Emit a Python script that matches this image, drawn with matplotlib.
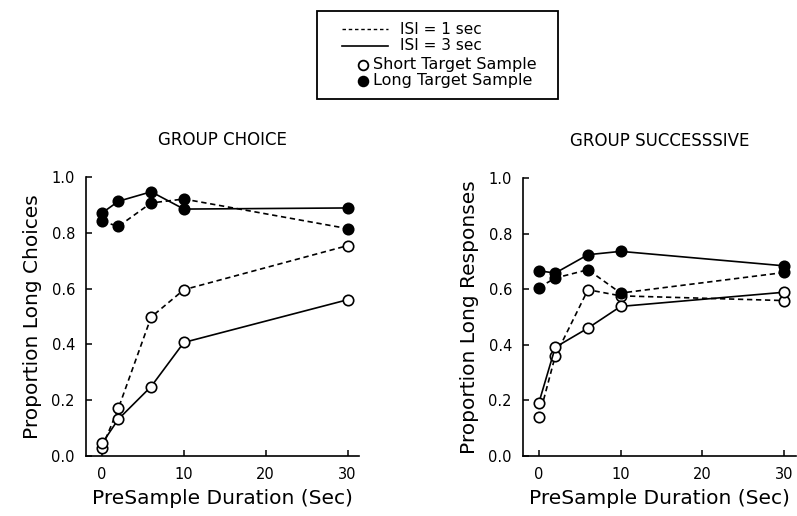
import numpy as np
import matplotlib
matplotlib.use("Agg")
import matplotlib.pyplot as plt
from matplotlib.lines import Line2D
from matplotlib.patches import Rectangle

# presample durations (sec)
duration = [0, 2, 6, 10, 30]

# GROUP CHOICE
choice_long_isi1 = [0.841, 0.823, 0.907, 0.921, 0.815]
choice_long_isi3 = [0.871, 0.913, 0.947, 0.885, 0.889]
choice_short_isi1 = [0.030, 0.171, 0.498, 0.596, 0.754]
choice_short_isi3 = [0.045, 0.132, 0.249, 0.407, 0.560]

# GROUP SUCCESSSIVE
succ_long_isi1 = [0.606, 0.640, 0.670, 0.586, 0.660]
succ_long_isi3 = [0.666, 0.658, 0.724, 0.736, 0.684]
succ_short_isi1 = [0.139, 0.360, 0.598, 0.576, 0.559]
succ_short_isi3 = [0.192, 0.391, 0.460, 0.538, 0.589]

titles = ["GROUP CHOICE", "GROUP SUCCESSSIVE"]
ylabels = ["Proportion Long Choices", "Proportion Long Responses"]
xticks = [0, 10, 20, 30]
yticks = [0.0, 0.2, 0.4, 0.6, 0.8, 1.0]

plt.rcParams["font.family"] = "DejaVu Sans"

fig = plt.figure(figsize=(7.97, 5.16), dpi=100)
ax1 = fig.add_axes([0.108, 0.1163, 0.3425, 0.5407])
ax2 = fig.add_axes([0.6562, 0.1163, 0.342, 0.5388])

dash = (0, (3.2, 2.2))
mk = dict(marker="o", markersize=7.5, markeredgewidth=1.2, color="black", lw=1.2)

panels = [
    (ax1, choice_long_isi1, choice_long_isi3, choice_short_isi1, choice_short_isi3),
    (ax2, succ_long_isi1, succ_long_isi3, succ_short_isi1, succ_short_isi3),
]

for i, (ax, l1, l3, s1, s3) in enumerate(panels):
    ax.plot(duration, s1, linestyle=dash, markerfacecolor="white", **mk)
    ax.plot(duration, s3, linestyle="-", markerfacecolor="white", **mk)
    ax.plot(duration, l1, linestyle=dash, markerfacecolor="black", **mk)
    ax.plot(duration, l3, linestyle="-", markerfacecolor="black", **mk)

    ax.set_xlim(-1.95, 31.4)
    ax.set_ylim(0, 1.0)
    ax.set_xticks(xticks)
    ax.set_yticks(yticks)
    ax.set_yticklabels(["%.1f" % v for v in yticks])
    ax.tick_params(direction="in", length=4, width=1.1, labelsize=10.5, pad=8)
    ax.tick_params(axis="y", pad=8)
    for side in ["top", "right"]:
        ax.spines[side].set_visible(False)
    for side in ["left", "bottom"]:
        ax.spines[side].set_linewidth(1.2)
    ax.set_title(titles[i], fontsize=12, pad=23)
    ax.set_xlabel("PreSample Duration (Sec)", fontsize=14.5, labelpad=5)
    ax.set_ylabel(ylabels[i], fontsize=14.5, labelpad=7)

# legend box drawn in pixel coords
lg = fig.add_axes([0, 0, 1, 1])
lg.set_xlim(0, 797)
lg.set_ylim(516, 0)
lg.axis("off")
lg.add_patch(Rectangle((317, 11), 241, 88, fill=False, lw=1.3, edgecolor="black"))
lg.add_line(Line2D([342, 388], [29, 29], color="black", lw=1.0, linestyle=(0, (2.5, 2))))
lg.add_line(Line2D([342, 388], [46, 46], color="black", lw=1.2))
lg.add_line(Line2D([363], [65], marker="o", markersize=7, markerfacecolor="white",
                   markeredgecolor="black", markeredgewidth=1.3))
lg.add_line(Line2D([363], [81], marker="o", markersize=7, markerfacecolor="black",
                   markeredgecolor="black", markeredgewidth=1.3))
lg.text(400, 29, "ISI = 1 sec", fontsize=11, va="center")
lg.text(400, 46, "ISI = 3 sec", fontsize=11, va="center")
lg.text(373, 65, "Short Target Sample", fontsize=11.5, va="center")
lg.text(373, 81, "Long Target Sample", fontsize=11.5, va="center")

fig.savefig("out.png", dpi=100)
